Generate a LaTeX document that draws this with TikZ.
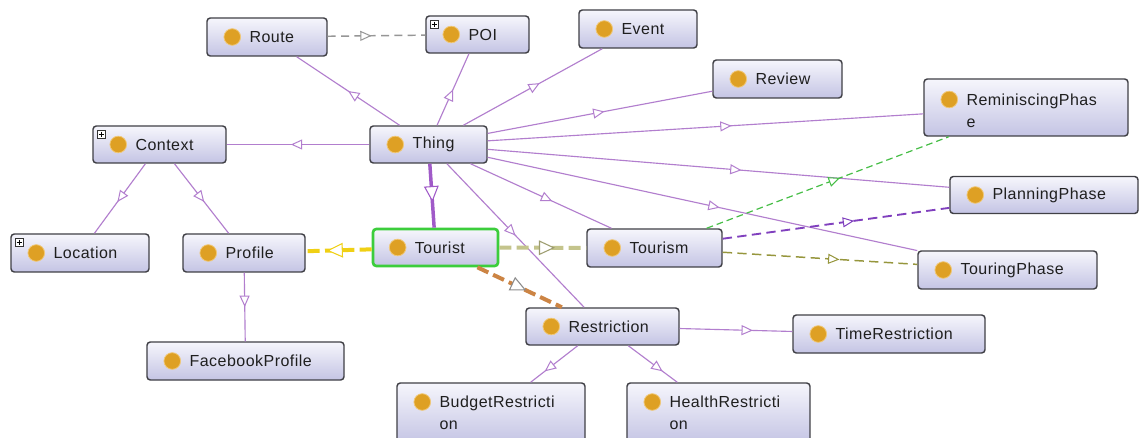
\documentclass[tikz,border=0pt]{standalone}
\usepackage{fontspec}
\setmainfont[LetterSpace=3]{Liberation Sans}
\usetikzlibrary{arrows.meta,decorations.markings,calc}

\definecolor{boxtop}{RGB}{246,246,252}
\definecolor{boxbot}{RGB}{196,196,228}
\definecolor{boxedge}{RGB}{64,64,70}
\definecolor{dotfill}{RGB}{222,160,36}
\definecolor{dotedge}{RGB}{240,200,120}
\definecolor{isacol}{RGB}{178,126,206}
\definecolor{isathk}{RGB}{160,90,200}
\definecolor{tourgreen}{RGB}{60,205,60}
\definecolor{relgray}{RGB}{150,150,150}
\definecolor{relyellow}{RGB}{240,208,20}
\definecolor{relkhaki}{RGB}{196,196,140}
\definecolor{relorange}{RGB}{204,132,68}
\definecolor{relgreen}{RGB}{70,190,70}
\definecolor{relpurple}{RGB}{128,64,190}
\definecolor{relolive}{RGB}{150,150,60}

% class box: frame, bullet and label
\newcommand\owlnode[9]{%
  \node[clsbox, minimum width=#4*0.75pt, minimum height=#5*0.75pt, #9] (#1) at (#2,#3) {};
  \node[clsdot] (#1-dot) at ($(#1.west)+(26,#7)$) {};
  \node[clslbl] (#1-lbl) at ($(#1.west)+(43,#8)$) {#6};
}

\begin{document}
\begin{tikzpicture}[x=0.75pt,y=-0.75pt,
  clsbox/.style={draw=boxedge, line width=1.1pt, rounded corners=2.5pt,
    top color=boxtop, bottom color=boxbot, inner sep=0pt},
  clsdot/.style={circle, fill=dotfill, draw=dotedge, line width=0.6pt,
    minimum size=12.5pt, inner sep=0pt},
  clslbl/.style={anchor=west, inner sep=0pt, align=left, text=black!88,
    font=\fontsize{12}{16.5}\selectfont},
  plusbox/.style={draw=black!80, fill=white, minimum size=6.5pt, inner sep=0pt,
    line width=0.45pt,
    path picture={\draw[line width=0.6pt, black]
      ($(path picture bounding box.center)+(-2.6,0)$) -- ($(path picture bounding box.center)+(2.6,0)$)
      ($(path picture bounding box.center)+(0,-2.6)$) -- ($(path picture bounding box.center)+(0,2.6)$);}},
  isa/.style={draw=isacol, line width=0.85pt},
  smalltri/.style 2 args={postaction={decorate}, decoration={markings,
    mark=at position #1 with {\arrow{Triangle[length=8.5pt, width=7.5pt, fill=white, color=#2, line width=0.75pt]}}}},
  bigtri/.style 2 args={postaction={decorate}, decoration={markings,
    mark=at position #1 with {\arrow{Triangle[length=12pt, width=11pt, fill=white, color=#2, line width=0.8pt]}}}},
]
\useasboundingbox (0,0) rectangle (1142,438);
\fill[white] (0,0) rectangle (1142,438);

% classes
\owlnode{route}{267}{37}{120}{38}{Route}{0}{0}{}
\owlnode{poi}{477.5}{34.5}{103}{37}{POI}{0}{0}{}
\owlnode{event}{638}{29}{118}{38}{Event}{0}{0}{}
\owlnode{review}{777.5}{79}{129}{38}{Review}{0}{0}{}
\owlnode{remin}{1026}{107.5}{204}{57}{ReminiscingPhas\\e}{-8}{3}{}
\owlnode{context}{159.5}{144.5}{133}{37}{Context}{0}{0}{}
\owlnode{thing}{428.5}{144.5}{117}{37}{Thing}{0}{0}{}
\owlnode{planning}{1044}{195}{188}{37}{PlanningPhase}{0}{0}{}
\owlnode{location}{80}{253}{138}{38}{Location}{0}{0}{}
\owlnode{profile}{244}{253}{122}{38}{Profile}{0}{0}{}
\owlnode{tourist}{435.5}{247.5}{125}{37}{Tourist}{0}{0}{draw=tourgreen, line width=2pt}
\owlnode{tourism}{654.5}{248}{135}{38}{Tourism}{0}{0}{}
\owlnode{touring}{1007.5}{270}{179}{38}{TouringPhase}{0}{0}{}
\owlnode{restriction}{602.5}{326.5}{153}{37}{Restriction}{0}{0}{}
\owlnode{timer}{889}{334}{192}{38}{TimeRestriction}{0}{0}{}
\owlnode{facebook}{245.5}{361}{197}{38}{FacebookProfile}{0}{0}{}
\owlnode{budget}{491}{413}{188}{60}{BudgetRestricti\\on}{-11}{0}{}
\owlnode{health}{718.5}{413}{183}{60}{HealthRestricti\\on}{-11}{0}{}

% expandable-class markers
\node[plusbox] (poi-plus) at ($(poi.north west)+(9,9)$) {};
\node[plusbox] (context-plus) at ($(context.north west)+(9,9)$) {};
\node[plusbox] (location-plus) at ($(location.north west)+(9,9)$) {};

% subclass edges
\draw[isa, smalltri={0.5}{isacol}] (thing) -- (route);
\draw[isa, smalltri={0.5}{isacol}] (thing) -- (poi);
\draw[isa, smalltri={0.55}{isacol}] (thing) -- (event);
\draw[isa, smalltri={0.52}{isacol}] (thing) -- (review);
\draw[isa, smalltri={0.56}{isacol}] (thing) -- (remin);
\draw[isa, smalltri={0.55}{isacol}] (thing) -- (planning);
\draw[isa, smalltri={0.54}{isacol}] (thing) -- (touring);
\draw[isa, smalltri={0.58}{isacol}] (thing) -- (tourism);
\draw[isa, smalltri={0.5}{isacol}] (thing) -- (restriction);
\draw[isa, smalltri={0.55}{isacol}] (thing) -- (context);
\draw[draw=isathk, line width=2.6pt, bigtri={0.6}{isathk}] (thing) -- (tourist);
\draw[isa, smalltri={0.55}{isacol}] (context) -- (location);
\draw[isa, smalltri={0.55}{isacol}] (context) -- (profile);
\draw[isa, smalltri={0.5}{isacol}] (profile) -- (facebook);
\draw[isa, smalltri={0.65}{isacol}] (restriction) -- (timer);
\draw[isa, smalltri={0.7}{isacol}] (restriction) -- (budget);
\draw[isa, smalltri={0.7}{isacol}] (restriction) -- (health);

% property edges
\draw[draw=relgray, line width=1.1pt, dash pattern=on 6pt off 4pt, smalltri={0.45}{relgray}] (route) -- (poi);
\draw[draw=relyellow, line width=3pt, dash pattern=on 9pt off 4pt, bigtri={0.68}{relyellow}] (tourist) -- (profile);
\draw[draw=relkhaki, line width=3pt, dash pattern=on 9pt off 4pt, bigtri={0.64}{relkhaki!80!black}] (tourist) -- (tourism);
\draw[draw=relorange, line width=3pt, dash pattern=on 9pt off 4pt, bigtri={0.58}{black!45}] (tourist) -- (restriction);
\draw[draw=relgreen, line width=0.9pt, dash pattern=on 5pt off 3pt, smalltri={0.55}{relgreen}] (tourism) -- (remin);
\draw[draw=relpurple, line width=1.4pt, dash pattern=on 7pt off 4pt, smalltri={0.58}{relpurple}] (tourism) -- (planning);
\draw[draw=relolive, line width=1.1pt, dash pattern=on 7pt off 4pt, smalltri={0.6}{relolive}] (tourism) -- (touring);
\end{tikzpicture}
\end{document}
